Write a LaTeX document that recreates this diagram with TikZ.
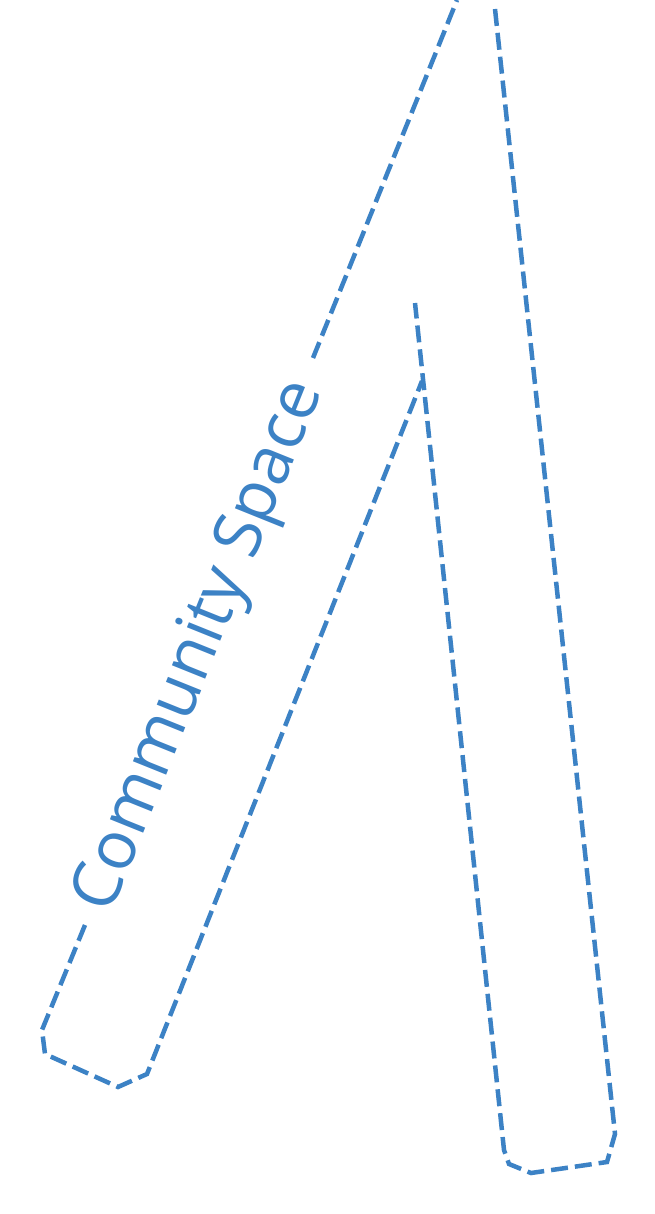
\documentclass[tikz,border=0pt]{standalone}
\usepackage{fontspec}
\setmainfont{Open Sans}
\definecolor{csblue}{RGB}{60,130,197}
\begin{document}
\begin{tikzpicture}[x=1pt,y=-1pt,
  outline/.style={draw=csblue, line width=4.5pt, dash pattern=on 17pt off 7pt},
  labeltext/.style={text=csblue, font=\fontsize{67}{80}\selectfont, inner sep=0pt}]
\useasboundingbox (0,0) rectangle (655,1214);
% left outline
\coordinate (lt)  at (457,0);
\coordinate (lg1) at (313,358);
\coordinate (lg2) at (85,925);
\coordinate (lb1) at (42,1030);
\coordinate (lb2) at (45,1054);
\coordinate (lb3) at (118,1087);
\coordinate (lb4) at (147,1074);
\coordinate (li)  at (422,381);
% right outline
\coordinate (rt)  at (495,9);
\coordinate (rb1) at (615,1134);
\coordinate (rb2) at (607,1162);
\coordinate (rb3) at (531,1173);
\coordinate (rb4) at (509,1164);
\coordinate (rb5) at (504,1150);
\coordinate (ri)  at (415,303);
\draw[outline] (lg1) -- (lt);
\draw[outline] (lg2) -- (lb1) -- (lb2) -- (lb3) -- (lb4) -- (li);
\draw[outline] (rt) -- (rb1) -- (rb2) -- (rb3) -- (rb4) -- (rb5) -- (ri);
\node[labeltext, rotate=68.06, anchor=mid] (label) at (214,652) {Community Space};
\end{tikzpicture}
\end{document}
